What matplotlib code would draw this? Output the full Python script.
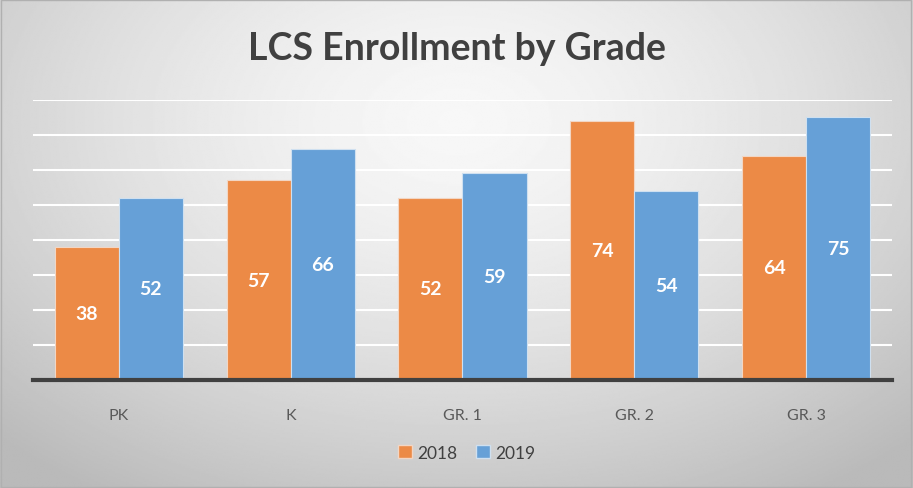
import numpy as np
import matplotlib
matplotlib.use('Agg')
import matplotlib.pyplot as plt
from matplotlib.patches import Patch

plt.rcParams['font.family'] = ['Lato', 'DejaVu Sans']

grades = ['PK', 'K', 'GR. 1', 'GR. 2', 'GR. 3']
enroll_2018 = [38, 57, 52, 74, 64]
enroll_2019 = [52, 66, 59, 54, 75]

c2018 = '#EC8a46'
c2019 = '#66A0D7'

fig = plt.figure(figsize=(9.13, 4.89), dpi=100)

# 背景：径向渐变的灰色
bg = fig.add_axes([0, 0, 1, 1], zorder=-1)
yy, xx = np.mgrid[0:1:300j, 0:1:600j]
r = np.sqrt(((xx - 0.5) / 0.72) ** 2 + ((yy - 0.25) / 0.9) ** 2)
shade = 0.97 - 0.24 * np.clip(r, 0, 1) ** 1.5
bg.imshow(shade, cmap='gray', vmin=0, vmax=1, aspect='auto', extent=[0, 1, 1, 0])
bg.set_xlim(0, 1)
bg.set_ylim(1, 0)
bg.axis('off')
# 外框
bg.add_patch(plt.Rectangle((0.001, 0.002), 0.997, 0.995, fill=False,
                           edgecolor='#b0b0b0', linewidth=1, transform=bg.transAxes))

ax = fig.add_axes([0.036, 0.221, 0.941, 0.5725])
ax.set_facecolor('none')

x = np.arange(len(grades))
w = 0.373
b1 = ax.bar(x - w / 2, enroll_2018, w, color=c2018, edgecolor='#f2d6c4', linewidth=0.8, zorder=3)
b2 = ax.bar(x + w / 2, enroll_2019, w, color=c2019, edgecolor='#cfe0f0', linewidth=0.8, zorder=3)

for bars in (b1, b2):
    for rect in bars:
        h = rect.get_height()
        ax.text(rect.get_x() + rect.get_width() / 2, h / 2, str(int(h)),
                ha='center', va='center', color='white', fontsize=14, fontweight='bold', zorder=4)

ax.set_ylim(0, 80)
ax.set_xlim(-0.5, len(grades) - 0.5)
ax.set_yticks(np.arange(0, 81, 10))
ax.set_yticklabels([])
ax.tick_params(axis='y', length=0)
ax.yaxis.grid(True, color='white', linewidth=1.5, zorder=0)
ax.set_axisbelow(True)

ax.set_xticks(x)
ax.set_xticklabels(grades, fontsize=11.5, color='#595959')
ax.tick_params(axis='x', length=0, pad=20)

for s in ['top', 'right', 'left']:
    ax.spines[s].set_visible(False)
ax.spines['bottom'].set_color('#404040')
ax.spines['bottom'].set_linewidth(3)
ax.spines['bottom'].set_zorder(5)

fig.text(0.5, 0.9, 'LCS Enrollment by Grade', ha='center', va='center',
         fontsize=27, fontweight='bold', color='#404040')

handles = [Patch(facecolor=c2018, edgecolor='#f2d6c4', label='2018'),
           Patch(facecolor=c2019, edgecolor='#cfe0f0', label='2019')]
fig.legend(handles=handles, loc='center', bbox_to_anchor=(0.511, 0.072), ncol=2,
           frameon=False, fontsize=12.5, handlelength=0.8, handleheight=0.8,
           handletextpad=0.3, columnspacing=1.1, labelcolor='#404040')

fig.savefig('out.png', dpi=100)
